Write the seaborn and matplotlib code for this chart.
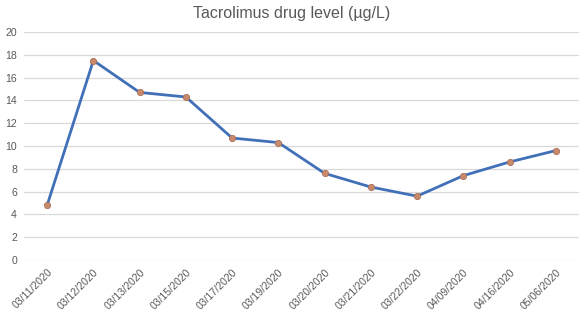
import seaborn as sns
import matplotlib.pyplot as plt
import pandas as pd

# data
dates = ["03/11/2020", "03/12/2020", "03/13/2020", "03/15/2020", "03/17/2020", "03/19/2020",
         "03/20/2020", "03/21/2020", "03/22/2020", "04/09/2020", "04/16/2020", "05/06/2020"]
levels = [4.8, 17.5, 14.7, 14.3, 10.7, 10.3, 7.6, 6.4, 5.6, 7.4, 8.6, 9.6]

df = pd.DataFrame({"date": dates, "level": levels})

sns.set_style("white")
plt.rcParams["font.family"] = ["Liberation Sans", "DejaVu Sans"]

fig = plt.figure(figsize=(5.83, 3.12), dpi=100)
ax = fig.add_axes([24 / 583, 1 - 260 / 312, 555 / 583, 228 / 312])

sns.lineplot(data=df, x="date", y="level", sort=False, ax=ax, color="#4170b8", linewidth=2.0,
             marker="o", markersize=4.5, markerfacecolor="#c98a6c", markeredgecolor="#a8705a",
             markeredgewidth=0.6)

ax.set_xlim(-0.5, len(dates) - 0.5)
ax.set_ylim(0, 20)
ax.set_yticks(range(0, 21, 2))
ax.grid(axis="y", color="#d9d9d9", linewidth=0.9)
ax.set_axisbelow(True)
for s in ax.spines.values():
    s.set_visible(False)
ax.tick_params(axis="both", length=0, labelsize=7.6, colors="#595959", pad=5)
plt.setp(ax.get_xticklabels(), rotation=45, ha="right", rotation_mode="anchor")
ax.set_xlabel("")
ax.set_ylabel("")

fig.text(0.5, 0.958, "Tacrolimus drug level (µg/L)", ha="center", va="center", fontsize=11.5, color="#595959")

fig.savefig("out.png", dpi=100)
